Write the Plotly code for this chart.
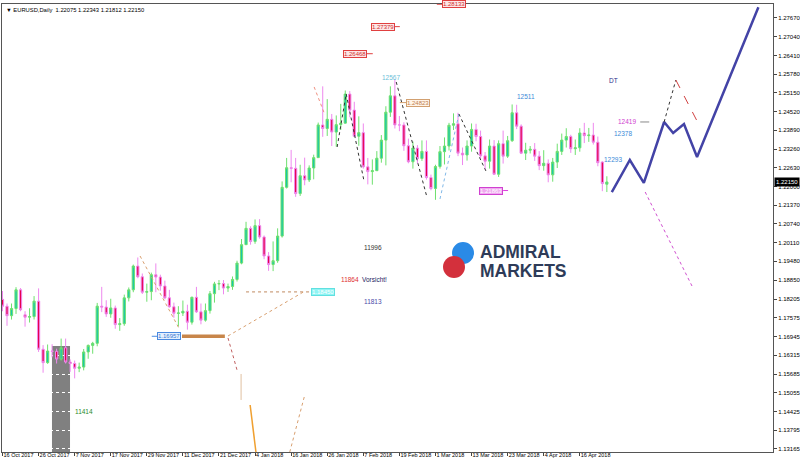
import plotly.graph_objects as go
import pandas as pd

# ---------------- data ----------------
opens = [1.1820,1.1797,1.1765,1.1789,1.1852,1.1768,1.1760,1.1762,1.1814,1.1652,
         1.1607,1.1646,1.1645,1.1619,1.1657,1.1609,1.1604,1.1588,1.1592,1.1643,
         1.1665,1.1672,1.1797,1.1794,1.1771,1.1791,1.1735,1.1738,1.1825,1.1852,
         1.1932,1.1896,1.1844,1.1846,1.1903,1.1895,1.1865,1.1825,1.1795,1.1773,
         1.1774,1.1780,1.1743,1.1827,1.1778,1.1750,1.1782,1.1839,1.1872,1.1873,
         1.1858,1.1863,1.1887,1.1942,1.2004,1.2059,1.2015,1.2068,1.2030,1.1966,
         1.1937,1.1950,1.2033,1.2197,1.2263,1.2261,1.2176,1.2236,1.2222,1.2262,
         1.2297,1.2407,1.2395,1.2426,1.2383,1.2408,1.2413,1.2511,1.2457,1.2369,
         1.2381,1.2266,1.2250,1.2253,1.2295,1.2356,1.2450,1.2505,1.2407,1.2407,
         1.2337,1.2283,1.2329,1.2294,1.2318,1.2230,1.2193,1.2267,1.2317,1.2336,
         1.2406,1.2411,1.2312,1.2306,1.2336,1.2392,1.2368,1.2303,1.2285,1.2336,
         1.2241,1.2344,1.2302,1.2354,1.2448,1.2403,1.2312,1.2322,1.2325,1.2302,
         1.2270,1.2278,1.2239,1.2282,1.2318,1.2356,1.2368,1.2327,1.2330,1.2380,
         1.2371,1.2373,1.2349,1.2282,1.22075]
highs = [1.1848,1.1806,1.1806,1.1861,1.1858,1.1780,1.1790,1.1831,1.1857,1.1666,
         1.1668,1.1669,1.1654,1.1688,1.1688,1.1618,1.1614,1.1607,1.1653,1.1668,
         1.1677,1.1808,1.1862,1.1817,1.1822,1.1799,1.1757,1.1836,1.1860,1.1937,
         1.1961,1.1907,1.1873,1.1910,1.1941,1.1903,1.1883,1.1852,1.1809,1.1797,
         1.1816,1.1802,1.1829,1.1862,1.1806,1.1806,1.1848,1.1879,1.1885,1.1885,
         1.1873,1.1897,1.1950,1.2023,1.2081,1.2066,1.2089,1.2090,1.2035,1.1979,
         1.2015,1.2059,1.2217,1.2296,1.2323,1.2296,1.2273,1.2297,1.2271,1.2307,
         1.2415,1.2537,1.2494,1.2444,1.2439,1.2478,1.2523,1.2521,1.2485,1.2436,
         1.2412,1.2296,1.2291,1.2319,1.2373,1.2470,1.2537,1.2560,1.2437,1.2416,
         1.2361,1.2351,1.2339,1.2355,1.2355,1.2240,1.2273,1.2336,1.2365,1.2414,
         1.2446,1.2448,1.2331,1.2355,1.2412,1.2411,1.2388,1.2316,1.2358,1.2356,
         1.2355,1.2388,1.2370,1.2476,1.2475,1.2409,1.2347,1.2336,1.2346,1.2319,
         1.2322,1.2291,1.2296,1.2344,1.2378,1.2396,1.2374,1.2358,1.2396,1.2414,
         1.2397,1.2414,1.2368,1.2285,1.22343]
lows = [1.1780,1.1731,1.1752,1.1771,1.1780,1.1728,1.1742,1.1752,1.1643,1.1573,
        1.1603,1.1625,1.1604,1.1614,1.1604,1.1576,1.1554,1.1575,1.1581,1.1620,
        1.1637,1.1662,1.1777,1.1761,1.1758,1.1721,1.1714,1.1731,1.1813,1.1844,
        1.1891,1.1838,1.1812,1.1817,1.1844,1.1849,1.1820,1.1792,1.1758,1.1729,
        1.1764,1.1718,1.1735,1.1774,1.1736,1.1745,1.1772,1.1809,1.1851,1.1837,
        1.1845,1.1852,1.1880,1.1938,1.2003,1.2004,1.2007,1.2024,1.1955,1.1916,
        1.1915,1.1943,1.2028,1.2193,1.2214,1.2165,1.2168,1.2204,1.2215,1.2224,
        1.2296,1.2367,1.2370,1.2336,1.2334,1.2390,1.2412,1.2433,1.2369,1.2337,
        1.2260,1.2207,1.2206,1.2252,1.2280,1.2271,1.2434,1.2395,1.2386,1.2320,
        1.2278,1.2260,1.2278,1.2286,1.2223,1.2187,1.2155,1.2260,1.2274,1.2321,
        1.2390,1.2302,1.2272,1.2287,1.2317,1.2352,1.2294,1.2258,1.2260,1.2239,
        1.2232,1.2277,1.2296,1.2350,1.2393,1.2309,1.2289,1.2311,1.2286,1.2255,
        1.2253,1.2214,1.2216,1.2262,1.2306,1.2331,1.2313,1.2306,1.2317,1.2346,
        1.2350,1.2341,1.2268,1.2184,1.21812]
closes = [1.1797,1.1765,1.1789,1.1852,1.1785,1.1760,1.1762,1.1814,1.1652,1.1607,
          1.1646,1.1645,1.1619,1.1657,1.1609,1.1604,1.1588,1.1592,1.1643,1.1665,
          1.1672,1.1797,1.1794,1.1771,1.1791,1.1735,1.1738,1.1825,1.1852,1.1932,
          1.1896,1.1844,1.1846,1.1903,1.1895,1.1865,1.1825,1.1795,1.1773,1.1774,
          1.1780,1.1743,1.1827,1.1778,1.1750,1.1782,1.1839,1.1872,1.1873,1.1858,
          1.1863,1.1887,1.1942,1.2004,1.2059,1.2015,1.2068,1.2030,1.1966,1.1937,
          1.1950,1.2033,1.2197,1.2263,1.2261,1.2176,1.2236,1.2222,1.2262,1.2297,
          1.2407,1.2395,1.2426,1.2383,1.2408,1.2413,1.2511,1.2457,1.2369,1.2381,
          1.2266,1.2250,1.2253,1.2295,1.2356,1.2450,1.2505,1.2407,1.2407,1.2337,
          1.2283,1.2329,1.2294,1.2318,1.2230,1.2193,1.2267,1.2317,1.2336,1.2406,
          1.2411,1.2312,1.2306,1.2336,1.2392,1.2368,1.2303,1.2285,1.2336,1.2241,
          1.2344,1.2302,1.2354,1.2448,1.2403,1.2312,1.2322,1.2325,1.2302,1.2270,
          1.2278,1.2239,1.2282,1.2318,1.2356,1.2368,1.2327,1.2330,1.2380,1.2371,
          1.2373,1.2349,1.2280,1.2210,1.22150]

tick_dates = ["2017-10-16","2017-10-26","2017-11-07","2017-11-17","2017-11-29",
              "2017-12-11","2017-12-21","2018-01-04","2018-01-16","2018-01-26",
              "2018-02-07","2018-02-19","2018-03-01","2018-03-13","2018-03-23",
              "2018-04-04","2018-04-16"]
price_ticks = [1.27670,1.27040,1.26410,1.25780,1.25150,1.24520,1.23890,1.23260,
               1.22630,1.22000,1.21370,1.20740,1.20110,1.19480,1.18850,1.18205,
               1.17575,1.16945,1.16315,1.15685,1.15055,1.14425,1.13795,1.13165]
title_text = "EURUSD,Daily  1.22075 1.22343 1.21812 1.22150"
last_price = 1.22150

# projection path (bar index, price)
proj_idx = [135.1, 139.1, 142.2, 146.7, 148.7, 151.1, 154.0, 167.6]
proj_px = [1.2181, 1.2289, 1.2212, 1.2417, 1.2380, 1.2410, 1.2299, 1.2803]

# ---------------- figure ----------------
bars = [d for d in pd.bdate_range("2017-10-16", "2018-04-24")
        if d.strftime("%m-%d") not in ("12-25", "01-01")]
xs = list(range(len(bars)))
pos = {d.strftime("%Y-%m-%d"): i for i, d in enumerate(bars)}
tick_idx = [pos[d] for d in tick_dates]
tick_txt = [pd.Timestamp(d).strftime("%-d %b %Y") for d in tick_dates]

FONT = "Liberation Sans"
fig = go.Figure()
fig.add_trace(go.Candlestick(
    x=xs, open=opens, high=highs, low=lows, close=closes,
    increasing=dict(line=dict(color="#6ee06e", width=1), fillcolor="#17c7a8"),
    decreasing=dict(line=dict(color="#ee88ee", width=1), fillcolor="#e6004e"),
    whiskerwidth=0, showlegend=False, hoverinfo="skip"))
fig.add_trace(go.Scatter(x=proj_idx, y=proj_px, mode="lines",
                         line=dict(color="#4343a6", width=2.5),
                         showlegend=False, hoverinfo="skip"))

Y0, Y1 = 1.13062, 1.28141
shapes = []
# grey block
shapes.append(dict(type="rect", xref="x", yref="y", x0=10.97, x1=14.97, y0=Y0, y1=1.1663,
                   fillcolor="#808080", line=dict(width=0), layer="below"))

segments = [
    # (x0, p0, x1, p1, color, dash, width)
    (30.5, 1.19659, 39.1, 1.17236, "#d9a070", "dot", 1),
    (54.0, 1.18450, 68.6, 1.18450, "#c08a60", "dot", 1),
    (50.0, 1.16967, 67.1, 1.18481, "#d9a070", "dot", 1),
    (50.0, 1.16900, 52.0, 1.15822, "#c06060", "dot", 1),
    (52.9, 1.15688, 52.9, 1.14813, "#e0c0a0", "solid", 1),
    (54.9, 1.14644, 56.2, Y0, "#f0a030", "solid", 1.5),
    (66.9, 1.14913, 63.7, Y0, "#d9a070", "dot", 1),
    (39.8, 1.16957, 49.3, 1.16957, "#c8864a", "solid", 3.5),
    (69.1, 1.25348, 71.5, 1.24405, "#f09080", "dot", 1),
    (74.2, 1.23328, 76.2, 1.25112, "#333333", "dot", 1),
    (76.2, 1.25112, 80.2, 1.22150, "#333333", "dot", 1),
    (87.3, 1.25516, 94.1, 1.21645, "#333333", "dot", 1),
    (97.0, 1.21578, 101.2, 1.24439, "#80b8e8", "dot", 1),
    (101.2, 1.24439, 107.4, 1.22453, "#333333", "dot", 1),
    (146.7, 1.24170, 149.3, 1.25583, "#333333", "dot", 1),
    (149.3, 1.25583, 154.0, 1.24203, "#d04040", "dash", 1),
    (142.5, 1.21813, 153.1, 1.18582, "#d050d0", "dot", 1),
    (141.4, 1.24170, 144.0, 1.24170, "#888888", "dash", 1),
    # small connectors of boxed labels
    (96.3, 1.28133, 97.7, 1.28133, "#e04040", "solid", 1),
    (87.0, 1.27379, 88.1, 1.27379, "#e04040", "solid", 1),
    (80.8, 1.26468, 82.1, 1.26468, "#e04040", "solid", 1),
    (88.1, 1.24823, 89.5, 1.24823, "#d2a070", "solid", 1),
    (111.0, 1.21863, 112.1, 1.21863, "#e040e0", "solid", 1),
    (33.1, 1.16957, 34.3, 1.16957, "#4a8ae0", "solid", 1),
]
for x0, p0, x1, p1, c, dsh, w in segments:
    shapes.append(dict(type="line", xref="x", yref="y", x0=x0, y0=p0, x1=x1, y1=p1,
                       line=dict(color=c, dash=dsh, width=w), layer="above"))

# logo circles (paper coords)
shapes.append(dict(type="circle", xref="paper", yref="paper", x0=0.5837, x1=0.6122,
                   y0=0.4196, y1=0.4688, fillcolor="#2a8ae6", line=dict(width=0)))
shapes.append(dict(type="circle", xref="paper", yref="paper", x0=0.5720, x1=0.6005,
                   y0=0.3884, y1=0.4375, fillcolor="#d3303c", line=dict(width=0)))
fig.update_layout(shapes=shapes)

ann = []
texts = [
    # (x, price, text, color, anchor)
    (18.07, 1.14409, "11414", "#2a8a2a", "center"),
    (82.15, 1.19960, "11996", "#333333", "center"),
    (77.05, 1.18885, "11864", "#e03030", "center"),
    (79.3, 1.18885, "Vorsicht!", "#1a1a60", "left"),
    (82.15, 1.18111, "11813", "#4a4aa8", "center"),
    (86.1, 1.25684, "12567", "#6cc0d8", "center"),
    (116.1, 1.25011, "12511", "#3a8ad8", "center"),
    (135.4, 1.25583, "DT", "#2a2a8a", "center"),
    (138.5, 1.24170, "12419", "#d040d0", "center"),
    (137.6, 1.23766, "12378", "#3a8ad8", "center"),
    (135.4, 1.22924, "12293", "#3a8ad8", "center"),
]
for x, p, t, c, a in texts:
    ann.append(dict(x=x, y=p, xref="x", yref="y", text=t, showarrow=False, xanchor=a,
                    font=dict(family=FONT, size=6.5, color=c)))

boxes = [
    (100.1, 1.28133, "1.28133", "#e04040", "#fde6e6", "#d03030"),
    (84.4, 1.27379, "1.27379", "#e04040", "#fde6e6", "#d03030"),
    (78.2, 1.26468, "1.26468", "#e04040", "#fde6e6", "#d03030"),
    (92.1, 1.24823, "1.24823", "#d2a070", "#fff4e8", "#c08050"),
    (108.3, 1.21863, "1.21863", "#d040d0", "#f0a8f0", "#ffffff"),
    (36.9, 1.16957, "1.16957", "#4a8ae0", "#e4f0ff", "#3a7ad0"),
    (71.1, 1.18450, "1.18450", "#60e0e0", "#90f4f4", "#ffffff"),
]
for x, p, t, bc, bg, fc in boxes:
    ann.append(dict(x=x, y=p, xref="x", yref="y", text=t, showarrow=False,
                    bordercolor=bc, borderwidth=1, borderpad=0, bgcolor=bg,
                    font=dict(family=FONT, size=6, color=fc)))

# title
ann.append(dict(x=0.003, y=0.997, xref="paper", yref="paper", xanchor="left", yanchor="top",
                text="▼ " + title_text, showarrow=False,
                font=dict(family=FONT, size=5.8, color="#000000")))
# last price tag
ann.append(dict(x=1, y=last_price, xref="paper", yref="y", xanchor="left", xshift=1,
                text=f"{last_price:.5f}", showarrow=False, bgcolor="#000000",
                borderpad=1, font=dict(family=FONT, size=6, color="#ffffff")))
# logo text
ann.append(dict(x=0.6175, y=0.447, xref="paper", yref="paper", xanchor="left", yanchor="middle",
                text="<b>ADMIRAL</b>", showarrow=False,
                font=dict(family=FONT, size=17.5, color="#2e3b58")))
ann.append(dict(x=0.6175, y=0.405, xref="paper", yref="paper", xanchor="left", yanchor="middle",
                text="<b>MARKETS</b>", showarrow=False,
                font=dict(family=FONT, size=17.5, color="#2e3b58")))
fig.update_layout(annotations=ann)

fig.update_layout(
    width=800, height=461,
    margin=dict(l=2, r=27, t=4, b=9),
    paper_bgcolor="white", plot_bgcolor="white",
    font=dict(family=FONT, size=6, color="black"),
    showlegend=False,
    xaxis=dict(range=[-0.111, 170.84], rangeslider=dict(visible=False),
               tickmode="array", tickvals=tick_idx, ticktext=tick_txt, tickangle=0,
               ticks="outside", ticklen=3, tickcolor="#444", tickwidth=1,
               ticklabelposition="outside right", ticklabelstandoff=-3,
               tickfont=dict(family=FONT, size=5.5, color="black"),
               showgrid=False, zeroline=False,
               showline=True, linecolor="#555555", linewidth=1, mirror=True,
               automargin=False),
    yaxis=dict(range=[Y0, Y1], side="right", tickmode="array", tickvals=price_ticks,
               ticktext=[f"{v:.5f}" for v in price_ticks],
               ticks="outside", ticklen=3, tickcolor="#444", tickwidth=1,
               tickfont=dict(family=FONT, size=6, color="black"),
               showgrid=True, gridcolor="#ffffff", griddash="dot", gridwidth=1,
               zeroline=False, showline=True, linecolor="#555555", linewidth=1,
               mirror=True, automargin=False),
)

fig.write_html("out.html", config={"displayModeBar": False},
               post_script="document.body.style.margin='0';")
